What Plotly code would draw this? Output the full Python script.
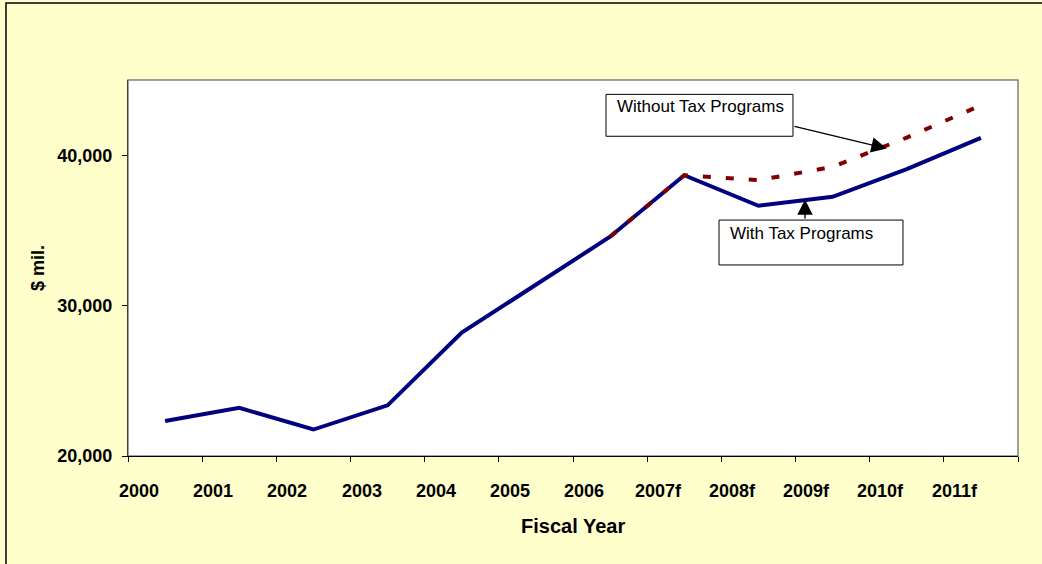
import plotly.graph_objects as go

# Fiscal years (f = forecast)
years = ["2000", "2001", "2002", "2003", "2004", "2005",
         "2006", "2007f", "2008f", "2009f", "2010f", "2011f"]

# Revenue, $ millions
with_tax = [22330, 23200, 21760, 23370, 28200, 31400,
            34580, 38670, 36640, 37230, 39070, 41150]
without_tax = [None, None, None, None, None, None,
               34580, 38670, 38340, 39220, 41170, 43320]

y_ticks = [20000, 30000, 40000]

FONT = "Arial, Liberation Sans, sans-serif"
BLUE = "#000080"
RED = "#800000"

fig = go.Figure()
fig.add_trace(go.Scatter(x=years, y=with_tax, mode="lines",
                         line=dict(color=BLUE, width=4),
                         name="With Tax Programs", hoverinfo="x+y"))
fig.add_trace(go.Scatter(x=years, y=without_tax, mode="lines",
                         line=dict(color=RED, width=4, dash="8px,15px"),
                         connectgaps=False,
                         name="Without Tax Programs", hoverinfo="x+y"))

fig.update_layout(
    width=1042, height=564, autosize=False,
    margin=dict(l=128, r=24, t=80, b=108, pad=0),
    paper_bgcolor="#FFFFCC", plot_bgcolor="#FFFFFF",
    showlegend=False,
    font=dict(family=FONT, color="#000000"),
)

fig.update_xaxes(
    type="category", range=[-0.5, len(years) - 0.5],
    tickson="boundaries", ticks="outside", ticklen=5, tickwidth=1,
    tickcolor="#000000", showticklabels=False,
    showgrid=False, zeroline=False,
    showline=True, linecolor="#000000", linewidth=1.2,
)
fig.update_yaxes(
    range=[20000, 45000], tickvals=y_ticks, tickformat=",",
    ticks="outside", ticklen=5, tickwidth=1, tickcolor="#000000",
    tickfont=dict(family=FONT, size=18, color="#000000", weight="bold"),
    ticklabelstandoff=6,
    showgrid=False, zeroline=False,
    showline=True, linecolor="#404040", linewidth=1.2,
)

shapes = [
    # plot-area frame (top and right edges)
    dict(type="rect", xref="paper", yref="paper", x0=0, x1=1, y0=0, y1=1,
         line=dict(color="#808080", width=1.5), layer="below"),
    # outer chart frame
    dict(type="rect", xref="paper", yref="paper",
         x0=-0.1371, x1=1.0315, y0=-0.296, y1=1.2045,
         line=dict(color="#000000", width=1.5)),
    # callout boxes
    dict(type="rect", xref="x", yref="y", x0=5.945, x1=8.466,
         y0=41259, y1=44045, fillcolor="#FFFFFF",
         line=dict(color="#000000", width=1)),
    dict(type="rect", xref="x", yref="y", x0=7.469, x1=9.949,
         y0=32702, y1=35687, fillcolor="#FFFFFF",
         line=dict(color="#000000", width=1)),
]

annotations = []
# category labels, drawn under each tick interval
for i, lab in enumerate(years):
    annotations.append(dict(
        x=i - 0.35, y=0, xref="x", yref="paper", text=lab, showarrow=False,
        xanchor="center", yanchor="middle", yshift=-35,
        font=dict(family=FONT, size=18, color="#000000", weight="bold")))

# axis titles
annotations.append(dict(
    x=0.5, y=0, xref="paper", yref="paper", text="Fiscal Year",
    showarrow=False, xanchor="center", yanchor="middle", yshift=-70,
    font=dict(family=FONT, size=20, color="#000000", weight="bold")))
annotations.append(dict(
    x=0, y=0.5, xref="paper", yref="paper", text="$ mil.", textangle=-90,
    showarrow=False, xanchor="center", yanchor="middle", xshift=-90,
    font=dict(family=FONT, size=18, color="#000000", weight="bold")))

# callout texts
annotations.append(dict(
    x=6.066, y=43249, xref="x", yref="y", text="Without Tax Programs",
    showarrow=False, xanchor="left", yanchor="middle",
    font=dict(family=FONT, size=17, color="#000000")))
annotations.append(dict(
    x=7.590, y=34825, xref="x", yref="y", text="With Tax Programs",
    showarrow=False, xanchor="left", yanchor="middle",
    font=dict(family=FONT, size=17, color="#000000")))

# callout arrows
for tip_x, tip_y, tail_x, tail_y in [(9.730, 40443, 8.466, 41943),
                                     (8.628, 37060, 8.628, 35687)]:
    annotations.append(dict(
        x=tip_x, y=tip_y, ax=tail_x, ay=tail_y,
        xref="x", yref="y", axref="x", ayref="y", text="",
        showarrow=True, arrowhead=2, arrowsize=2.2, arrowwidth=1.4,
        arrowcolor="#000000", standoff=0, startstandoff=0))

fig.update_layout(shapes=shapes, annotations=annotations)

fig.write_html("out.html")
